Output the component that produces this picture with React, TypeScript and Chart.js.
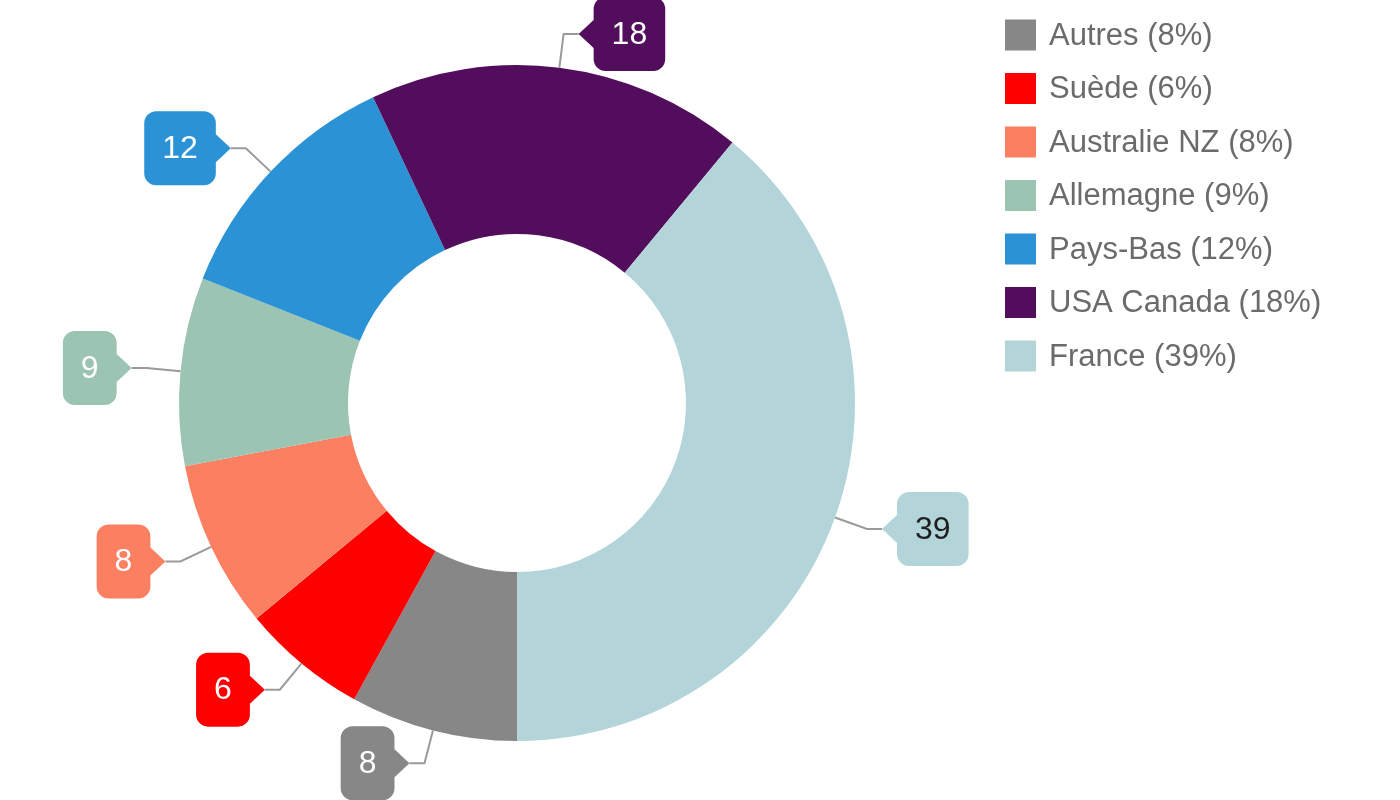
import React, { useEffect, useRef } from "react";
import { Chart, registerables } from "chart.js";

Chart.register(...registerables);

const categories = ["Autres", "Suède", "Australie NZ", "Allemagne", "Pays-Bas", "USA Canada", "France"];
const values = [8, 6, 8, 9, 12, 18, 39];
const sliceColors = ["#878787", "#fe0000", "#fb8062", "#9bc4b3", "#2b93d5", "#520d5c", "#b3d4d9"];
const valueTextColors = ["#ffffff", "#ffffff", "#ffffff", "#ffffff", "#ffffff", "#ffffff", "#1e1e1e"];

const FONT = '"Liberation Sans", Arial, sans-serif';

function bubblePath(ctx: CanvasRenderingContext2D, tipX: number, tipY: number, side: number, w: number, h: number) {
  const r = 12, pd = 15, ph = 14;
  const bx = side > 0 ? tipX + pd : tipX - pd - w;
  const by = tipY - h / 2;
  ctx.beginPath();
  if (side > 0) {
    ctx.moveTo(bx + r, by);
    ctx.arcTo(bx + w, by, bx + w, by + h, r);
    ctx.arcTo(bx + w, by + h, bx, by + h, r);
    ctx.arcTo(bx, by + h, bx, by, r);
    ctx.lineTo(bx, tipY + ph);
    ctx.lineTo(tipX, tipY);
    ctx.lineTo(bx, tipY - ph);
    ctx.arcTo(bx, by, bx + w, by, r);
  } else {
    ctx.moveTo(bx + r, by);
    ctx.arcTo(bx + w, by, bx + w, by + h, r);
    ctx.lineTo(bx + w, tipY - ph);
    ctx.lineTo(tipX, tipY);
    ctx.lineTo(bx + w, tipY + ph);
    ctx.arcTo(bx + w, by + h, bx, by + h, r);
    ctx.arcTo(bx, by + h, bx, by, r);
    ctx.arcTo(bx, by, bx + w, by, r);
  }
  ctx.closePath();
  return { bx, by };
}

const calloutPlugin = {
  id: "callouts",
  afterDatasetsDraw(chart: any) {
    const ctx: CanvasRenderingContext2D = chart.ctx;
    const meta = chart.getDatasetMeta(0);
    ctx.save();
    meta.data.forEach((arc: any, i: number) => {
      const { x, y, startAngle, endAngle, outerRadius } = arc.getProps(["x", "y", "startAngle", "endAngle", "outerRadius"], true);
      const a = (startAngle + endAngle) / 2;
      const cx = Math.cos(a), sy = Math.sin(a);
      const p0x = x + outerRadius * cx, p0y = y + outerRadius * sy;
      const ex = x + (outerRadius + 34) * cx, ey = y + (outerRadius + 34) * sy;
      const side = cx >= 0 ? 1 : -1;
      const tipX = ex + side * 15, tipY = ey;
      ctx.strokeStyle = "#9a9a9a";
      ctx.lineWidth = 2;
      ctx.beginPath();
      ctx.moveTo(p0x, p0y);
      ctx.lineTo(ex, ey);
      ctx.lineTo(tipX, tipY);
      ctx.stroke();
      const text = String(values[i]);
      ctx.font = `32px ${FONT}`;
      const tw = ctx.measureText(text).width;
      const w = tw + 36, h = 74;
      const { bx, by } = bubblePath(ctx, tipX, tipY, side, w, h);
      ctx.fillStyle = sliceColors[i];
      ctx.fill();
      ctx.fillStyle = valueTextColors[i];
      ctx.textAlign = "center";
      ctx.textBaseline = "middle";
      ctx.fillText(text, bx + w / 2, by + h / 2 + 1);
    });
    ctx.restore();
  },
};

const legendPlugin = {
  id: "sideLegend",
  afterDraw(chart: any) {
    const ctx: CanvasRenderingContext2D = chart.ctx;
    const total = values.reduce((s, v) => s + v, 0);
    ctx.save();
    ctx.font = `31px ${FONT}`;
    ctx.textAlign = "left";
    ctx.textBaseline = "middle";
    categories.forEach((c, i) => {
      const cy = 35 + i * 53.5;
      ctx.fillStyle = sliceColors[i];
      ctx.fillRect(1005, cy - 15.5, 31, 31);
      ctx.fillStyle = "#6b6b6b";
      ctx.fillText(`${c} (${Math.round((values[i] / total) * 100)}%)`, 1049, cy + 1);
    });
    ctx.restore();
  },
};

export default function App() {
  const ref = useRef<HTMLCanvasElement | null>(null);
  useEffect(() => {
    if (!ref.current) return;
    const chart = new Chart(ref.current, {
      type: "doughnut",
      data: {
        labels: categories,
        datasets: [
          {
            data: values,
            backgroundColor: sliceColors,
            borderColor: "#ffffff",
            borderWidth: 0,
          },
        ],
      },
      options: {
        animation: false,
        responsive: false,
        rotation: 180,
        cutout: "50%",
        layout: { padding: { left: 179, right: 545, top: 65, bottom: 59 } },
        plugins: { legend: { display: false }, tooltip: { enabled: false } },
      },
      plugins: [calloutPlugin, legendPlugin],
    });
    return () => chart.destroy();
  }, []);
  return (
    <div style={{ position: "absolute", left: 0, top: 0, width: 1400, height: 800, background: "#fff" }}>
      <canvas ref={ref} width={1400} height={800} style={{ width: 1400, height: 800, display: "block" }} />
    </div>
  );
}
